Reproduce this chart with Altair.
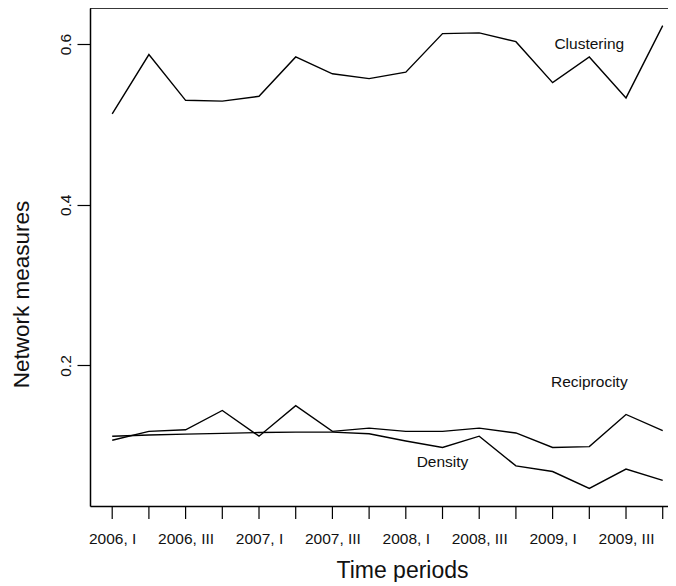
import json
import altair as alt
import pandas as pd

# ---- data ----
periods = ["2006, I", "2006, II", "2006, III", "2006, IV",
           "2007, I", "2007, II", "2007, III", "2007, IV",
           "2008, I", "2008, II", "2008, III", "2008, IV",
           "2009, I", "2009, II", "2009, III", "2009, IV"]
period_index = list(range(1, 17))
clustering = [0.513, 0.587, 0.530, 0.529, 0.535, 0.584, 0.563, 0.557,
              0.565, 0.613, 0.614, 0.603, 0.552, 0.584, 0.533, 0.623]
reciprocity = [0.107, 0.118, 0.120, 0.144, 0.112, 0.150, 0.118, 0.122,
               0.118, 0.118, 0.122, 0.116, 0.098, 0.099, 0.139, 0.119]
density = [0.112, 0.1135, 0.1145, 0.1155, 0.1165, 0.117, 0.117, 0.115,
           0.106, 0.098, 0.112, 0.075, 0.068, 0.047, 0.071, 0.057]

label_text = ["Clustering", "Reciprocity", "Density"]
label_x = [14, 14, 10]
label_y = [0.600, 0.180, 0.080]

y_ticks = [0.2, 0.4, 0.6]

# ---- tables ----
rows = []
for name, vals in [("Clustering", clustering), ("Reciprocity", reciprocity), ("Density", density)]:
    for p, v in zip(period_index, vals):
        rows.append({"period": p, "value": v, "series": name})
df = pd.DataFrame(rows)
labels_df = pd.DataFrame({"text": label_text, "x": label_x, "y": label_y})
ticks_df = pd.DataFrame({"period": period_index})

W, H = 578, 498
TICK = 13
FONT = "Liberation Sans"

x_scale = alt.Scale(domain=[0.395, 16.144], nice=False, zero=False)
y_scale = alt.Scale(domain=[0.0251, 0.6449], nice=False, zero=False)

label_expr = "datum.value % 2 == 1 ? " + json.dumps(periods) + "[datum.value - 1] : ''"

x_axis = alt.Axis(values=period_index, labelExpr=label_expr, title="Time periods",
                  grid=False, ticks=False, tickSize=TICK,
                  domainColor="black", domainWidth=1.5, labelOverlap=False,
                  labelFlush=False, labelPadding=TICK + 12, labelFontSize=15.5,
                  labelFont=FONT, labelColor="#111", titleFont=FONT,
                  titleFontSize=23, titleFontWeight="normal", titleColor="#111",
                  titleX=312, titleY=71, titleBaseline="alphabetic")

y_axis = alt.Axis(values=y_ticks, format=".1f", title="Network measures",
                  grid=False, tickSize=TICK, tickWidth=1.2, tickColor="black",
                  domainColor="black", domainWidth=1.5, labelAngle=270,
                  labelAlign="center", labelBaseline="alphabetic", labelPadding=7,
                  labelFontSize=15.5, labelFont=FONT, labelColor="#111",
                  titleFont=FONT, titleFontSize=22.5, titleFontWeight="normal",
                  titleColor="#111", titleAngle=270, titleAlign="center",
                  titleBaseline="alphabetic", titleX=-62, titleY=286)

lines = alt.Chart(df).mark_line(color="black", strokeWidth=1.4).encode(
    x=alt.X("period:Q", scale=x_scale, axis=x_axis),
    y=alt.Y("value:Q", scale=y_scale, axis=y_axis),
    detail="series:N",
    order="period:Q",
)

texts = alt.Chart(labels_df).mark_text(font=FONT, fontSize=15.5, color="#111",
                                        align="center", baseline="middle").encode(
    x=alt.X("x:Q", scale=x_scale),
    y=alt.Y("y:Q", scale=y_scale),
    text="text:N",
)

x_ticks = alt.Chart(ticks_df).mark_rule(color="black", strokeWidth=1.2).encode(
    x=alt.X("period:Q", scale=x_scale),
    y=alt.value(H), y2=alt.value(H + TICK))

top_border = alt.Chart(pd.DataFrame({"a": [0]})).mark_rule(
    color="black", strokeWidth=1.5).encode(
    x=alt.value(0), x2=alt.value(W), y=alt.value(0))

chart = alt.layer(lines, texts, x_ticks, top_border).properties(
    width=W, height=H,
    autosize=alt.AutoSizeParams(type="none"),
    padding={"left": 82, "top": 0, "right": 0, "bottom": 76},
).configure_view(stroke=None).configure(background="white")

chart.save("out.html", embed_options={"renderer": "svg", "actions": False})
